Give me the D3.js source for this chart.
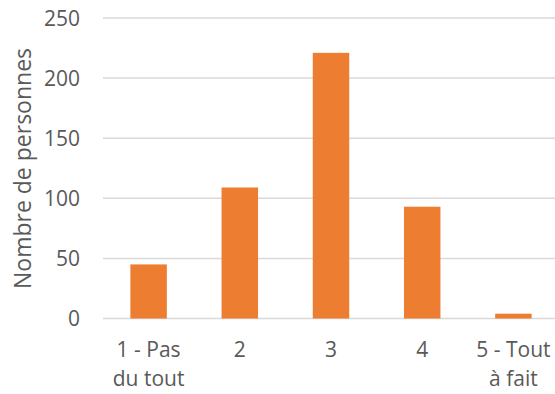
<!DOCTYPE html>
<html><head><meta charset="utf-8">
<script src="https://cdn.jsdelivr.net/npm/d3@7"></script>
<style>body{margin:0;background:#fff}svg{display:block}text{font-family:"Open Sans",sans-serif;fill:#595959}</style>
</head><body>
<svg id="c" width="555" height="394"></svg>
<script>
const categories = [["1 - Pas","du tout"],["2"],["3"],["4"],["5 - Tout","à fait"]];
const values = [45, 109, 221, 93, 4];
const yTicks = [0, 50, 100, 150, 200, 250];
const yTitle = "Nombre de personnes";

const svg = d3.select("#c");
const mLeft = 103, mRight = 559, mTop = 18, mBottom = 318.5;
const x = d3.scaleBand().domain(d3.range(categories.length)).range([mLeft, mRight]).paddingInner(0.6).paddingOuter(0.3);
const y = d3.scaleLinear().domain([0, 250]).range([mBottom, mTop]);

svg.append("g").selectAll("line").data(yTicks).join("line")
  .attr("x1", mLeft).attr("x2", 555).attr("y1", d => y(d)).attr("y2", d => y(d))
  .attr("stroke", "#d9d9d9").attr("stroke-width", 1.5);

svg.append("g").selectAll("text").data(yTicks).join("text")
  .attr("x", 80).attr("y", d => y(d)).attr("dy", "0.36em").attr("text-anchor", "end")
  .attr("font-size", 21).text(d => d);

svg.append("g").selectAll("rect").data(values).join("rect")
  .attr("x", (d, i) => x(i)).attr("width", x.bandwidth())
  .attr("y", d => y(d)).attr("height", d => y(0) - y(d)).attr("fill", "#ed7d31");

const xl = svg.append("g").selectAll("text").data(categories).join("text")
  .attr("text-anchor", "middle").attr("font-size", 21)
  .attr("transform", (d, i) => `translate(${x(i) + x.bandwidth() / 2},357)`);
xl.selectAll("tspan").data(d => d).join("tspan")
  .attr("x", 0).attr("y", (d, j) => j * 29).text(d => d);

svg.append("text").attr("transform", "translate(31,168.5) rotate(-90)")
  .attr("text-anchor", "middle").attr("font-size", 23).text(yTitle);
</script>
</body></html>
